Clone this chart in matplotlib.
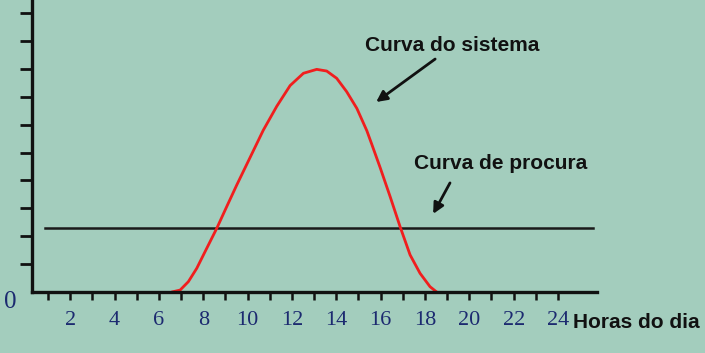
import matplotlib
matplotlib.use("Agg")
import matplotlib.pyplot as plt

# ---- data ----
hours_curve = [6.58, 6.96, 7.33, 7.71, 8.08, 8.61, 9.06, 9.51, 10.15, 10.71, 11.32, 11.92,
               12.52, 13.12, 13.57, 14.02, 14.47, 14.93, 15.38, 15.60, 15.98, 16.43, 16.88,
               17.33, 17.78, 18.23, 18.53]
system_curve = [0.0, 0.07, 0.37, 0.85, 1.44, 2.28, 3.06, 3.83, 4.88, 5.80, 6.66, 7.40,
                7.84, 7.98, 7.92, 7.66, 7.18, 6.58, 5.78, 5.30, 4.46, 3.42, 2.34,
                1.33, 0.67, 0.19, 0.0]
demand_hours = [0.87, 25.6]
demand_level = 2.29
x_ticks = list(range(1, 25))
x_tick_labels = [str(h) if h % 2 == 0 else "" for h in x_ticks]
y_ticks = list(range(1, 11))

BG = "#a3cdbd"
NAVY = "#1c2a70"
INK = "#111111"

fig = plt.figure(figsize=(7.05, 3.53), dpi=100, facecolor=BG)
ax = fig.add_axes([0, 0, 1, 1], facecolor=BG)
ax.set_xlim(-1.164, 30.63)
ax.set_ylim(-2.186, 10.466)

for s in ["top", "right"]:
    ax.spines[s].set_visible(False)
ax.spines["left"].set_position(("data", 0.28))
ax.spines["bottom"].set_position(("data", 0.0))
ax.spines["left"].set_bounds(0, 10.466)
ax.spines["bottom"].set_bounds(0.28, 25.76)
ax.spines["left"].set_linewidth(2.4)
ax.spines["bottom"].set_linewidth(2.4)
ax.spines["left"].set_color(INK)
ax.spines["bottom"].set_color(INK)

ax.set_xticks(x_ticks)
ax.set_xticklabels(x_tick_labels, family="Liberation Serif", fontsize=16, color=NAVY)
ax.tick_params(axis="x", direction="out", length=6, width=1.8, color=INK, pad=8)
ax.set_yticks(y_ticks)
ax.set_yticklabels([])
ax.tick_params(axis="y", direction="out", length=8.5, width=2.0, color=INK)

ax.plot(demand_hours, [demand_level, demand_level], color="#1a1a1a", lw=1.8)
ax.plot(hours_curve, system_curve, color="#f01e1e", lw=2.0, solid_capstyle="round",
        solid_joinstyle="round")

ax.text(-0.71, -0.36, "0", family="Liberation Serif", fontsize=18, color=NAVY,
        ha="center", va="center")
ax.text(24.68, -1.11, "Horas do dia", family="Liberation Sans", fontweight="bold",
        fontsize=15, color=INK, ha="left", va="center")

ax.annotate("", xy=(15.80, 6.81), xytext=(18.46, 8.35),
            arrowprops=dict(arrowstyle="-|>", color=INK, lw=2.0, mutation_scale=16,
                            shrinkA=0, shrinkB=0))
ax.text(19.22, 8.85, "Curva do sistema", family="Liberation Sans", fontweight="bold",
        fontsize=15, color=INK, ha="center", va="center")

ax.annotate("", xy=(18.37, 2.80), xytext=(19.13, 3.91),
            arrowprops=dict(arrowstyle="-|>", color=INK, lw=2.0, mutation_scale=16,
                            shrinkA=0, shrinkB=0))
ax.text(21.43, 4.62, "Curva de procura", family="Liberation Sans", fontweight="bold",
        fontsize=15, color=INK, ha="center", va="center")

fig.savefig("out.png", dpi=100, facecolor=BG)
